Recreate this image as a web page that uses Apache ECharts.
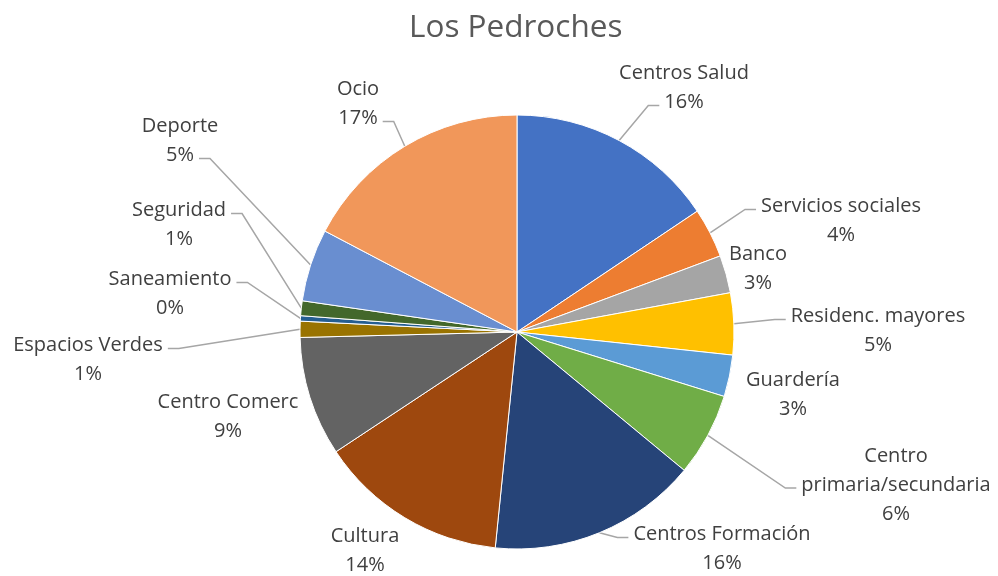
<!DOCTYPE html>
<html>
<head>
<meta charset="utf-8">
<script src="https://cdn.jsdelivr.net/npm/echarts@6/dist/echarts.min.js"></script>
<style>
  html, body { margin: 0; padding: 0; background: #fff; }
  #chart { width: 998px; height: 576px; }
</style>
</head>
<body>
<div id="chart"></div>
<script>
const categories = ['Centros Salud', 'Servicios sociales', 'Banco', 'Residenc. mayores', 'Guardería',
  'Centro primaria/secundaria', 'Centros Formación', 'Cultura', 'Centro Comerc', 'Espacios Verdes',
  'Saneamiento', 'Seguridad', 'Deporte', 'Ocio'];
const values = [15.6, 3.7, 2.8, 4.6, 3.1, 6.2, 15.6, 14.1, 8.9, 1.2, 0.4, 1.1, 5.4, 17.3];
const colors = ['#4472C4', '#ED7D31', '#A5A5A5', '#FFC000', '#5B9BD5', '#70AD47', '#264478',
  '#9E480E', '#636363', '#997300', '#255E91', '#43682B', '#698ED0', '#F1975A'];

// label layout: centre x, centre y, text line the leader attaches to (-1 = no leader)
const labelSpots = [
  [684, 88, 1], [841, 221, 0], [758, 269, -1], [878, 331, 0], [793, 395, -1],
  [896, 485, 1], [722, 549, 0], [365, 551, -1], [228, 417, -1], [88, 360, 0],
  [170, 294, 0], [179, 225, 0], [180, 141, 1], [358, 104, 1]
];

const CX = 517, CY = 332, R = 217;
const FONT = 'Open Sans';
const FONT_SIZE = 20, LINE_H = 29;

const ctx = document.createElement('canvas').getContext('2d');
ctx.font = FONT_SIZE + 'px "' + FONT + '"';
const textW = s => ctx.measureText(s).width;

const total = values.reduce((a, b) => a + b, 0);

function labelLines(i) {
  const name = categories[i];
  let lines = [name];
  if (textW(name) > 200 && name.indexOf(' ') > 0) {
    const k = name.indexOf(' ');
    lines = [name.slice(0, k), name.slice(k + 1)];
  }
  lines.push(Math.round(values[i] / total * 100) + '%');
  return lines;
}

// mid angle of each slice, clockwise from top
const midAngles = [];
let acc = 0;
values.forEach(v => {
  midAngles.push((acc + v / 2) / total * Math.PI * 2);
  acc += v;
});

const mychart = echarts.init(document.getElementById('chart'));
const option = {
  animation: false,
  title: {
    text: 'Los Pedroches',
    left: 404,
    top: 7,
    textStyle: { fontFamily: FONT, fontSize: 31.5, fontWeight: 'normal', color: '#595959' }
  },
  series: [{
    type: 'pie',
    center: [CX, CY],
    radius: R,
    startAngle: 90,
    clockwise: true,
    avoidLabelOverlap: false,
    itemStyle: { borderColor: '#ffffff', borderWidth: 1 },
    label: {
      show: true,
      position: 'outside',
      color: '#404040',
      fontFamily: FONT,
      fontSize: FONT_SIZE,
      lineHeight: LINE_H,
      formatter: p => labelLines(p.dataIndex).join('\n')
    },
    labelLine: {
      show: true,
      lineStyle: { color: '#A6A6A6', width: 1.5 }
    },
    emphasis: { disabled: true },
    labelLayout: function (params) {
      const i = params.dataIndex;
      const spot = labelSpots[i];
      const res = { x: spot[0], y: spot[1], align: 'center', verticalAlign: 'middle' };
      if (spot[2] >= 0) {
        const lines = labelLines(i);
        const ly = spot[1] - (lines.length - 1) * LINE_H / 2 + spot[2] * LINE_H;
        const w = textW(lines[spot[2]]);
        const a = midAngles[i];
        const ex = CX + R * Math.sin(a), ey = CY - R * Math.cos(a);
        const right = ex > spot[0];
        const ax = right ? spot[0] + w / 2 + 5 : spot[0] - w / 2 - 5;
        const bx = right ? ax + 11 : ax - 11;
        res.labelLinePoints = [[ex, ey], [bx, ly + 3], [ax, ly + 3]];
      }
      return res;
    },
    data: categories.map((c, i) => ({
      name: c,
      value: values[i],
      itemStyle: { color: colors[i] },
      labelLine: { show: labelSpots[i][2] >= 0 }
    }))
  }]
};
mychart.setOption(option);
window.addEventListener('resize', () => {
  mychart.resize();
});
</script>
</body>
</html>
